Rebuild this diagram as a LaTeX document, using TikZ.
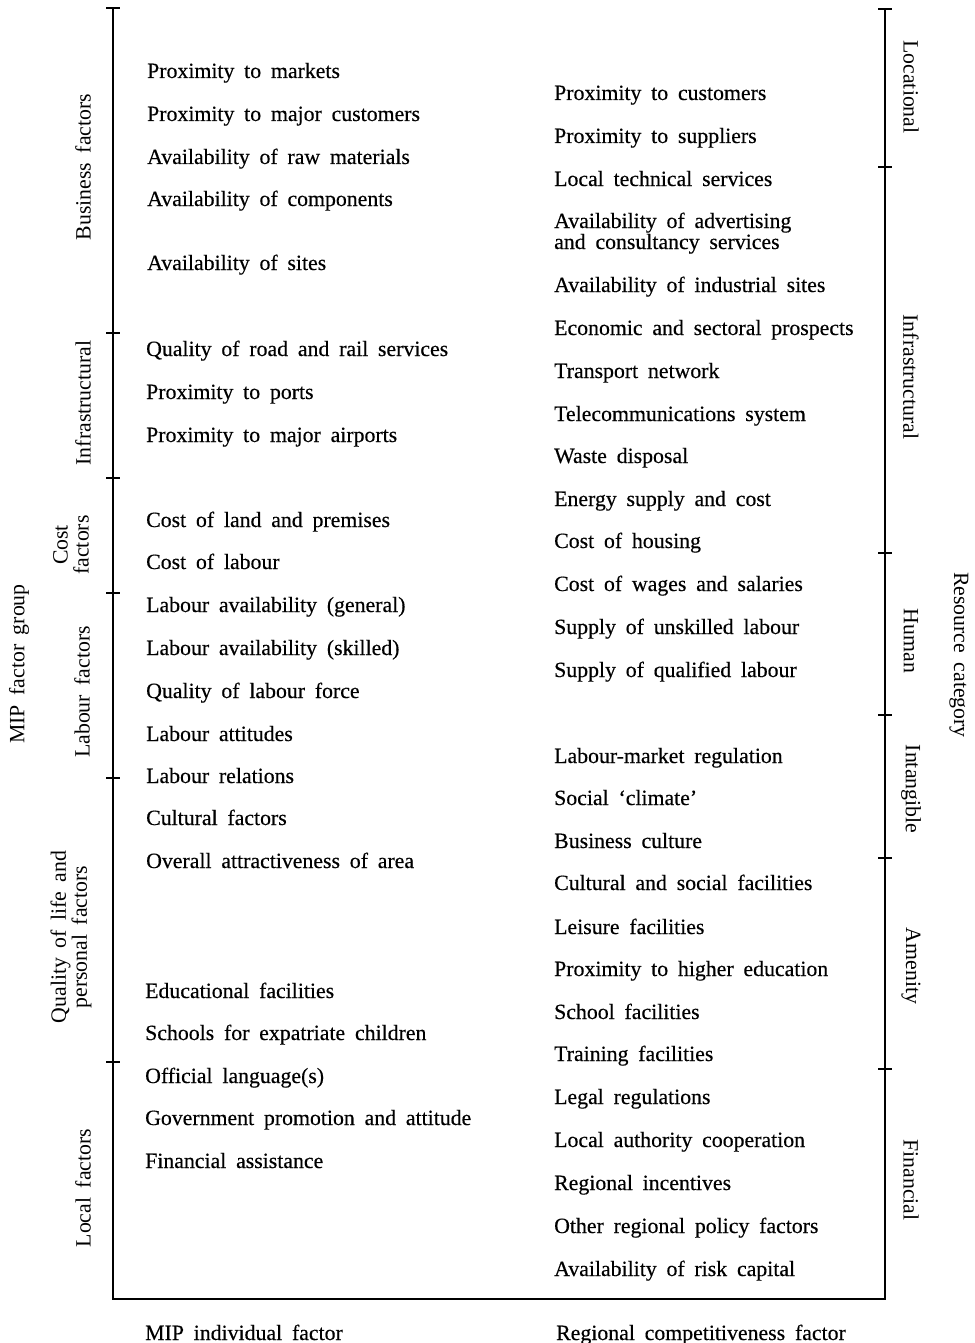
\documentclass[tikz,border=0pt]{standalone}
\usepackage{fontspec}
\setmainfont{Liberation Serif}
\newfontfamily\heavyserif[FakeBold=0.35]{Liberation Serif}
\newcommand{\diagfont}{\heavyserif\fontsize{21.8}{21}\selectfont\spaceskip=9.8pt plus 2pt minus 1pt\relax}
\newcommand{\labfont}{\fontsize{21.8}{21}\selectfont\spaceskip=9.5pt plus 2pt minus 1pt\relax}
\begin{document}
\begin{tikzpicture}[x=1pt,y=-1pt,
  item/.style={anchor=base west,inner sep=0pt,font=\diagfont},
  grp/.style={inner sep=0pt,font=\labfont,rotate=90,align=center},
  cat/.style={inner sep=0pt,font=\labfont,rotate=-90,align=center},
  axis/.style={line width=2.4pt,black},
  tickmark/.style={line width=2pt,black}]
\useasboundingbox[fill=white] (0,0) rectangle (974,1343);

% axes
\coordinate (LT) at (113,8);
\coordinate (LB) at (113,1299);
\coordinate (RT) at (885,9);
\coordinate (RB) at (885,1299);
\draw[axis,line join=miter] (LT) -- (LB) -- (RB) -- (RT);
\foreach \y in {8,333,478,593,778,1062} \draw[tickmark] (106,\y) -- (120,\y);
\foreach \y in {9,167,553,715,858,1069} \draw[tickmark] (878,\y) -- (892,\y);

% left items
\node[item] (L1) at (147,78) {Proximity to markets};
\node[item] (L2) at (147,121) {Proximity to major customers};
\node[item] (L3) at (147,164) {Availability of raw materials};
\node[item] (L4) at (147,206) {Availability of components};
\node[item] (L5) at (147,270) {Availability of sites};
\node[item] (L6) at (146,356) {Quality of road and rail services};
\node[item] (L7) at (146,399) {Proximity to ports};
\node[item] (L8) at (146,442) {Proximity to major airports};
\node[item] (L9) at (146,527) {Cost of land and premises};
\node[item] (L10) at (146,569) {Cost of labour};
\node[item] (L11) at (146,612) {Labour availability (general)};
\node[item] (L12) at (146,655) {Labour availability (skilled)};
\node[item] (L13) at (146,698) {Quality of labour force};
\node[item] (L14) at (146,741) {Labour attitudes};
\node[item] (L15) at (146,783) {Labour relations};
\node[item] (L16) at (146,825) {Cultural factors};
\node[item] (L17) at (146,868) {Overall attractiveness of area};
\node[item] (L18) at (145,998) {Educational facilities};
\node[item] (L19) at (145,1040) {Schools for expatriate children};
\node[item] (L20) at (145,1083) {Official language(s)};
\node[item] (L21) at (145,1125) {Government promotion and attitude};
\node[item] (L22) at (145,1168) {Financial assistance};

% right items
\node[item] (R1) at (554,100) {Proximity to customers};
\node[item] (R2) at (554,143) {Proximity to suppliers};
\node[item] (R3) at (554,186) {Local technical services};
\node[item] (R4a) at (554,228) {Availability of advertising};
\node[item] (R4b) at (554,249) {and consultancy services};
\node[item] (R5) at (554,292) {Availability of industrial sites};
\node[item] (R6) at (554,335) {Economic and sectoral prospects};
\node[item] (R7) at (554,378) {Transport network};
\node[item] (R8) at (554,421) {Telecommunications system};
\node[item] (R9) at (554,463) {Waste disposal};
\node[item] (R10) at (554,506) {Energy supply and cost};
\node[item] (R11) at (554,548) {Cost of housing};
\node[item] (R12) at (554,591) {Cost of wages and salaries};
\node[item] (R13) at (554,634) {Supply of unskilled labour};
\node[item] (R14) at (554,677) {Supply of qualified labour};
\node[item] (R15) at (554,763) {Labour-market regulation};
\node[item] (R16) at (554,805) {Social ‘climate’};
\node[item] (R17) at (554,848) {Business culture};
\node[item] (R18) at (554,890) {Cultural and social facilities};
\node[item] (R19) at (554,934) {Leisure facilities};
\node[item] (R20) at (554,976) {Proximity to higher education};
\node[item] (R21) at (554,1019) {School facilities};
\node[item] (R22) at (554,1061) {Training facilities};
\node[item] (R23) at (554,1104) {Legal regulations};
\node[item] (R24) at (554,1147) {Local authority cooperation};
\node[item] (R25) at (554,1190) {Regional incentives};
\node[item] (R26) at (554,1233) {Other regional policy factors};
\node[item] (R27) at (554,1276) {Availability of risk capital};

% left group labels
\node[grp] (GBus) at (83,167) {Business factors};
\node[grp] (GInf) at (83,403) {Infrastructural};
\node[grp] (GCost) at (71,545) {Cost\\factors};
\node[grp] (GLab) at (82,692) {Labour factors};
\node[grp] (GQual) at (71,937) {Quality of life and\\personal factors};
\node[grp] (GLoc) at (83,1188) {Local factors};
\node[grp] (GMIP) at (19,664) {MIP factor group};

% right category labels
\node[cat] (CLoc) at (911,87) {Locational};
\node[cat] (CInf) at (911,377) {Infrastructural};
\node[cat] (CHum) at (911,641) {Human};
\node[cat] (CInt) at (911,789) {Intangible};
\node[cat] (CAme) at (911,966) {Amenity};
\node[cat] (CFin) at (911,1180) {Financial};
\node[cat] (CRes) at (959,655) {Resource category};

% bottom labels
\node[item] (BMIP) at (145,1340) {MIP individual factor};
\node[item] (BReg) at (556,1340) {Regional competitiveness factor};
\end{tikzpicture}
\end{document}
